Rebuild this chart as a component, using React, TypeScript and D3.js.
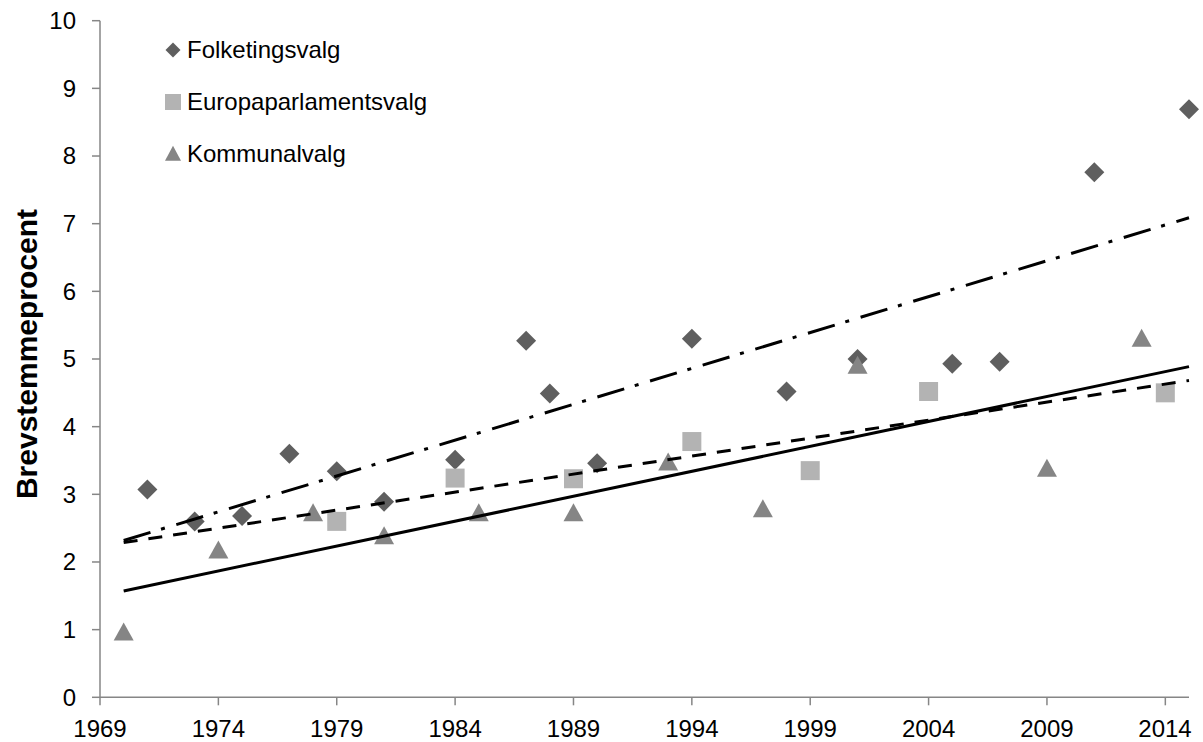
import React from "react";
import * as d3 from "d3";

const folkYears = [1971, 1973, 1975, 1977, 1979, 1981, 1984, 1987, 1988, 1990, 1994, 1998, 2001, 2005, 2007, 2011, 2015];
const folkValues = [3.07, 2.6, 2.68, 3.6, 3.34, 2.89, 3.51, 5.27, 4.49, 3.46, 5.3, 4.52, 5.0, 4.93, 4.96, 7.76, 8.69];

const euYears = [1979, 1984, 1989, 1994, 1999, 2004, 2014];
const euValues = [2.6, 3.24, 3.23, 3.78, 3.35, 4.52, 4.5];

const komYears = [1970, 1974, 1978, 1981, 1985, 1989, 1993, 1997, 2001, 2009, 2013];
const komValues = [0.96, 2.17, 2.72, 2.38, 2.72, 2.72, 3.47, 2.78, 4.9, 3.38, 5.3];

const xTicks = [1969, 1974, 1979, 1984, 1989, 1994, 1999, 2004, 2009, 2014];
const yTicks = [0, 1, 2, 3, 4, 5, 6, 7, 8, 9, 10];
const xDomain = [1969, 2015];
const yDomain = [0, 10];
const trendRange = [1970, 2015];

const legendLabels = ["Folketingsvalg", "Europaparlamentsvalg", "Kommunalvalg"];
const yTitle = "Brevstemmeprocent";

const W = 1203;
const H = 742;
const FONT = "'Liberation Sans', Arial, sans-serif";
const AXIS = "#868686";
const C_DIAMOND = "#5f5f5f";
const C_SQUARE = "#b3b3b3";
const C_TRI = "#858585";

function linreg(xs: number[], ys: number[]) {
  const mx = d3.mean(xs) as number;
  const my = d3.mean(ys) as number;
  let sxy = 0, sxx = 0;
  xs.forEach((x, i) => {
    sxy += (x - mx) * (ys[i] - my);
    sxx += (x - mx) * (x - mx);
  });
  const b = sxy / sxx;
  return (x: number) => my + b * (x - mx);
}

const diamond = (s: number) => `M0,${-s}L${s},0L0,${s}L${-s},0Z`;
const square = (s: number) => `M${-s},${-s}H${s}V${s}H${-s}Z`;
const tri = (w: number, h: number) => `M0,${-h * 0.55}L${w},${h * 0.45}L${-w},${h * 0.45}Z`;

export default function App() {
  const x = d3.scaleLinear().domain(xDomain).range([100, 1189]);
  const y = d3.scaleLinear().domain(yDomain).range([697.3, 20.7]);

  const fF = linreg(folkYears, folkValues);
  const fE = linreg(euYears, euValues);
  const fK = linreg(komYears, komValues);
  const line = (f: (v: number) => number) =>
    d3.line<number>().x((d) => x(d)).y((d) => y(f(d)))(trendRange) as string;

  return (
    <svg width={W} height={H} style={{ position: "absolute", left: 0, top: 0, background: "#fff" }} fontFamily={FONT}>
      <rect width={W} height={H} fill="#fff" />
      {/* axes */}
      <line x1={x(xDomain[0])} x2={x(xDomain[1])} y1={y(0)} y2={y(0)} stroke={AXIS} strokeWidth={1.5} />
      <line x1={x(xDomain[0])} x2={x(xDomain[0])} y1={y(0)} y2={y(10)} stroke={AXIS} strokeWidth={1.5} />
      {yTicks.map((t) => (
        <g key={"y" + t}>
          <line x1={x(xDomain[0]) - 8} x2={x(xDomain[0])} y1={y(t)} y2={y(t)} stroke={AXIS} strokeWidth={1.5} />
          <text x={76} y={y(t)} dy="0.35em" textAnchor="end" fontSize={24} fill="#000">
            {t}
          </text>
        </g>
      ))}
      {xTicks.map((t) => (
        <g key={"x" + t}>
          <line x1={x(t)} x2={x(t)} y1={y(0)} y2={y(0) + 8} stroke={AXIS} strokeWidth={1.5} />
          <text x={Math.min(x(t), 1165)} y={737} textAnchor="middle" fontSize={24} fill="#000">
            {t}
          </text>
        </g>
      ))}
      <text
        transform={`translate(37,354) rotate(-90)`}
        textAnchor="middle"
        fontSize={30}
        fontWeight="bold"
        fill="#000"
      >
        {yTitle}
      </text>

      {/* series */}
      {folkYears.map((yr, i) => (
        <path key={"f" + i} d={diamond(10)} transform={`translate(${x(yr)},${y(folkValues[i])})`} fill={C_DIAMOND} />
      ))}
      {euYears.map((yr, i) => (
        <path key={"e" + i} d={square(9.5)} transform={`translate(${x(yr)},${y(euValues[i])})`} fill={C_SQUARE} />
      ))}
      {komYears.map((yr, i) => (
        <path key={"k" + i} d={tri(10, 18)} transform={`translate(${x(yr)},${y(komValues[i])})`} fill={C_TRI} />
      ))}

      {/* trend lines */}
      <path d={line(fK)} fill="none" stroke="#000" strokeWidth={3} />
      <path d={line(fE)} fill="none" stroke="#000" strokeWidth={3} strokeDasharray="14,11" />
      <path d={line(fF)} fill="none" stroke="#000" strokeWidth={3} strokeDasharray="28,11,4,12" />

      {/* legend */}
      {legendLabels.map((lab, i) => {
        const cy = 50 + i * 52;
        const m =
          i === 0 ? (
            <path d={diamond(7.5)} transform={`translate(173,${cy})`} fill={C_DIAMOND} />
          ) : i === 1 ? (
            <path d={square(8)} transform={`translate(173,${cy})`} fill={C_SQUARE} />
          ) : (
            <path d={tri(8, 15)} transform={`translate(173,${cy})`} fill={C_TRI} />
          );
        return (
          <g key={"l" + i}>
            {m}
            <text x={187} y={cy} dy="0.35em" fontSize={24} fill="#000">
              {lab}
            </text>
          </g>
        );
      })}
    </svg>
  );
}
